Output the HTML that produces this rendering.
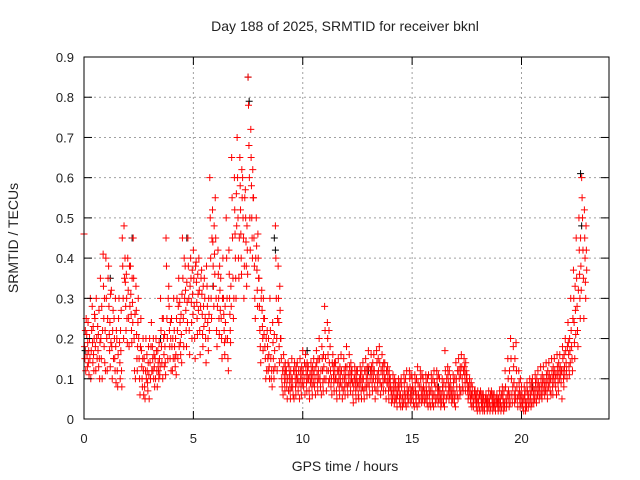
<!DOCTYPE html>
<html><head><meta charset="utf-8"><style>
body{margin:0;background:#fff}
svg{display:block;font-family:"Liberation Sans",sans-serif}
</style></head><body>
<svg id="chart" width="640" height="480">
<text x="345" y="31" text-anchor="middle" font-size="14" fill="#222">Day 188 of 2025, SRMTID for receiver bknl</text>
<text x="0" y="0" transform="translate(18,238) rotate(-90)" text-anchor="middle" font-size="14" fill="#222">SRMTID / TECUs</text>
<text x="345" y="471" text-anchor="middle" font-size="14" fill="#222">GPS time / hours</text>
<g id="grid"></g>
<g id="marks"></g>
<rect x="84" y="57" width="525" height="362" fill="none" stroke="#000"/>
<g id="ticks"></g>
</svg>
<script>
const xTicks=[0,5,10,15,20];
const yTicks=[0,0.1,0.2,0.3,0.4,0.5,0.6,0.7,0.8,0.9];
const yTickLabels=["0","0.1","0.2","0.3","0.4","0.5","0.6","0.7","0.8","0.9"];
const hours=[0,0.25,0.5,0.75,1,1.25,1.5,1.75,2,2.25,2.5,2.75,3,3.25,3.5,3.75,4,4.25,4.5,4.75,5,5.25,5.5,5.75,6,6.25,6.5,6.75,7,7.25,7.5,7.75,8,8.25,8.5,8.75,9,9.25,9.5,9.75,10,10.25,10.5,10.75,11,11.25,11.5,11.75,12,12.25,12.5,12.75,13,13.25,13.5,13.75,14,14.25,14.5,14.75,15,15.25,15.5,15.75,16,16.25,16.5,16.75,17,17.25,17.5,17.75,18,18.25,18.5,18.75,19,19.25,19.5,19.75,20,20.25,20.5,20.75,21,21.25,21.5,21.75,22,22.25,22.5,22.75];
const redVals=[
[.46,.18,.15,.22,.12,.25],[.2,.15,.3,.1,.17,.22],[.25,.18,.12,.3,.2,.15],[.35,.2,.15,.28,.1,.22],
[.4,.3,.2,.12,.25,.35],[.32,.18,.1,.22,.27,.15],[.2,.12,.08,.16,.25,.3],[.45,.38,.3,.2,.48,.35],
[.4,.32,.25,.18,.38,.28],[.45,.35,.2,.12,.26,.1],[.2,.15,.1,.06,.18,.25],[.15,.08,.05,.12,.2,.1],
[.2,.14,.1,.18,.24,.12],[.15,.1,.2,.17,.12,.08],[.3,.22,.18,.14,.25,.1],[.45,.38,.25,.2,.15,.3],
[.25,.18,.12,.2,.15,.3],[.3,.22,.15,.28,.35,.18],[.45,.35,.25,.18,.4,.3],[.45,.38,.3,.22,.16,.33],
[.42,.35,.28,.2,.15,.38],[.4,.32,.22,.16,.28,.35],[.35,.3,.25,.2,.14,.38],[.6,.5,.4,.3,.25,.45],
[.55,.45,.3,.22,.18,.28],[.35,.25,.2,.15,.3,.4],[.5,.4,.3,.2,.15,.12],[.65,.55,.45,.35,.25,.3],
[.7,.6,.5,.4,.35,.45],[.6,.5,.45,.3,.38,.55],[.85,.78,.68,.6,.5,.42],[.55,.45,.38,.3,.25,.4],
[.35,.28,.22,.18,.14,.3],[.25,.18,.15,.1,.2,.12],[.3,.22,.15,.1,.12,.08],[.48,.4,.3,.2,.12,.25],
[.2,.15,.1,.08,.12,.06],[.12,.08,.05,.1,.14,.07],[.15,.1,.08,.06,.12,.05],[.14,.1,.07,.12,.09,.05],
[.17,.12,.08,.1,.14,.06],[.13,.1,.07,.05,.11,.09],[.15,.12,.08,.1,.06,.13],[.2,.15,.1,.08,.12,.06],
[.28,.22,.15,.1,.07,.12],[.18,.12,.08,.1,.06,.14],[.14,.1,.07,.05,.12,.09],[.16,.12,.08,.05,.1,.07],
[.18,.13,.08,.06,.11,.09],[.12,.09,.06,.04,.08,.1],[.12,.09,.06,.05,.08,.1],[.14,.1,.07,.05,.12,.08],
[.17,.13,.08,.06,.1,.12],[.16,.12,.08,.05,.1,.07],[.18,.14,.09,.06,.12,.08],[.14,.1,.07,.05,.12,.09],
[.1,.08,.06,.04,.07,.05],[.09,.07,.05,.03,.06,.08],[.1,.08,.05,.03,.06,.04],[.12,.08,.06,.04,.07,.05],
[.1,.08,.06,.04,.07,.03],[.13,.09,.06,.04,.08,.05],[.1,.08,.06,.04,.07,.05],[.11,.08,.06,.04,.07,.03],
[.12,.09,.06,.04,.08,.05],[.1,.07,.05,.03,.06,.04],[.17,.12,.08,.05,.1,.06],[.1,.08,.06,.04,.07,.05],
[.14,.1,.08,.06,.12,.05],[.16,.13,.1,.08,.07,.12],[.11,.09,.07,.05,.08,.06],[.08,.06,.04,.03,.05,.07],
[.07,.05,.04,.03,.06,.02],[.06,.05,.03,.02,.04,.05],[.07,.05,.04,.02,.06,.03],[.06,.04,.03,.02,.05,.04],
[.07,.05,.04,.02,.06,.03],[.12,.08,.05,.03,.04,.06],[.2,.15,.1,.06,.04,.08],[.19,.12,.08,.05,.03,.06],
[.08,.06,.04,.03,.05,.02],[.09,.07,.05,.03,.06,.04],[.1,.08,.06,.04,.07,.05],[.12,.09,.07,.05,.08,.06],
[.13,.1,.08,.06,.09,.07],[.14,.11,.09,.07,.1,.06],[.15,.12,.1,.08,.11,.06],[.16,.13,.11,.09,.12,.05],
[.2,.17,.14,.12,.1,.18],[.3,.22,.18,.15,.12,.25],[.45,.35,.28,.22,.18,.32],[.6,.55,.5,.42,.35,.25]];
const redValsB=[
[.21,.16,.13,.19,.24,.14,.17,.11],[.28,.19,.14,.23,.16,.12,.2,.26],[.23,.17,.21,.13,.27,.15,.1,.19],[.41,.33,.25,.18,.3,.14,.22,.12],
[.38,.28,.21,.17,.24,.13,.31,.19],[.25,.2,.15,.12,.3,.18,.09,.22],[.19,.14,.1,.22,.17,.27,.12,.08],[.4,.34,.28,.22,.36,.3,.25,.19],
[.38,.31,.26,.22,.19,.35,.29,.24],[.33,.27,.21,.15,.12,.18,.24,.3],[.17,.13,.1,.08,.15,.2,.12,.06],[.16,.12,.09,.07,.14,.18,.11,.05],
[.18,.15,.12,.2,.1,.16,.13,.08],[.17,.14,.12,.1,.19,.15,.11,.13],[.25,.2,.16,.13,.21,.18,.14,.11],[.33,.28,.22,.18,.15,.24,.2,.12],
[.22,.18,.15,.13,.2,.16,.11,.25],[.29,.24,.19,.16,.26,.21,.14,.31],[.38,.32,.27,.22,.18,.34,.29,.24],[.4,.35,.29,.24,.2,.37,.31,.26],
[.39,.34,.29,.25,.21,.36,.31,.27],[.37,.31,.26,.21,.18,.33,.28,.23],[.33,.28,.24,.2,.17,.3,.26,.22],[.52,.44,.38,.33,.28,.48,.41,.36],
[.42,.36,.3,.25,.21,.38,.32,.27],[.3,.26,.22,.19,.16,.28,.24,.2],[.42,.36,.3,.26,.22,.19,.33,.28],[.6,.52,.46,.4,.35,.3,.56,.48],
[.65,.58,.52,.46,.4,.36,.62,.55],[.57,.5,.44,.38,.33,.48,.42,.36],[.72,.65,.58,.5,.45,.4,.62,.55],[.5,.43,.37,.32,.28,.46,.4,.35],
[.32,.27,.23,.2,.17,.3,.25,.21],[.22,.18,.15,.12,.2,.16,.13,.1],[.24,.19,.15,.12,.1,.21,.17,.13],[.38,.3,.24,.18,.14,.33,.27,.2],
[.16,.13,.11,.09,.07,.14,.12,.1],[.13,.11,.09,.07,.05,.12,.1,.08],[.14,.12,.1,.08,.06,.13,.11,.09],[.15,.12,.1,.08,.06,.13,.11,.09],
[.16,.13,.11,.09,.07,.14,.12,.1],[.14,.12,.1,.08,.06,.13,.11,.09],[.17,.14,.11,.09,.07,.15,.12,.1],[.18,.15,.12,.09,.07,.16,.13,.1],
[.24,.2,.16,.12,.09,.22,.14,.1],[.16,.13,.11,.09,.07,.14,.12,.1],[.15,.12,.1,.08,.06,.13,.11,.09],[.15,.12,.1,.08,.06,.13,.11,.09],
[.16,.13,.11,.09,.07,.14,.12,.1],[.13,.11,.09,.07,.05,.12,.1,.08],[.13,.11,.09,.07,.05,.12,.1,.08],[.15,.12,.1,.08,.06,.13,.11,.09],
[.16,.13,.11,.09,.07,.14,.12,.1],[.17,.14,.11,.09,.07,.15,.12,.1],[.16,.13,.11,.09,.07,.14,.12,.1],[.13,.11,.09,.07,.05,.12,.1,.08],
[.11,.09,.07,.06,.04,.1,.08,.05],[.1,.08,.07,.05,.04,.09,.06,.03],[.11,.09,.07,.05,.04,.1,.06,.03],[.12,.1,.08,.06,.04,.11,.07,.05],
[.11,.09,.07,.05,.04,.1,.06,.03],[.12,.1,.08,.06,.04,.11,.07,.05],[.11,.09,.07,.05,.04,.1,.06,.03],[.11,.09,.07,.05,.04,.1,.06,.03],
[.12,.1,.08,.06,.04,.11,.07,.05],[.1,.08,.07,.05,.04,.09,.06,.03],[.13,.11,.09,.07,.05,.12,.08,.06],[.11,.09,.07,.05,.04,.1,.06,.03],
[.15,.12,.1,.08,.06,.13,.11,.07],[.15,.13,.11,.09,.07,.14,.12,.1],[.1,.08,.07,.05,.04,.09,.06,.03],[.07,.06,.05,.04,.03,.06,.04,.02],
[.07,.06,.05,.04,.03,.06,.04,.02],[.06,.05,.04,.03,.02,.05,.04,.03],[.07,.06,.05,.04,.02,.06,.04,.03],[.06,.05,.04,.03,.02,.05,.04,.03],
[.08,.06,.05,.04,.02,.07,.04,.03],[.15,.1,.07,.05,.03,.12,.06,.04],[.18,.13,.09,.06,.04,.15,.07,.05],[.12,.09,.07,.05,.03,.1,.06,.04],
[.08,.06,.05,.04,.02,.07,.04,.03],[.1,.08,.06,.05,.03,.09,.07,.04],[.11,.09,.07,.05,.04,.1,.08,.06],[.13,.1,.08,.06,.05,.11,.09,.07],
[.14,.11,.09,.07,.05,.12,.1,.08],[.15,.12,.1,.08,.06,.13,.11,.09],[.16,.13,.11,.09,.07,.14,.12,.1],[.18,.15,.12,.1,.08,.16,.13,.11],
[.24,.19,.16,.13,.11,.2,.17,.14],[.37,.3,.24,.19,.15,.33,.27,.21],[.5,.42,.36,.3,.25,.45,.38,.32],[.52,.45,.4,.34,.3,.48,.42,.37]];
const blackHours=[0.05,1.2,2.2,3.5,4.7,5.9,7.5,7.55,8.7,8.75,10.2,13,16.2,20.5,22.7,22.75];
const blackVals=[.17,.35,.45,.2,.45,.33,.85,.79,.45,.42,.17,.12,.08,.08,.61,.48];

const X0=84,X1=609,Y0=419,Y1=57,XMAX=24,YMAX=0.9;
const xs=h=>X0+(X1-X0)*h/XMAX;
const ys=v=>Y0-(Y0-Y1)*v/YMAX;
const NS="http://www.w3.org/2000/svg";
function mk(tag,attrs,parent){const e=document.createElementNS(NS,tag);for(const k in attrs)e.setAttribute(k,attrs[k]);parent.appendChild(e);return e;}
const grid=document.getElementById('grid'),ticks=document.getElementById('ticks'),marks=document.getElementById('marks');
yTicks.forEach((t,i)=>{const y=ys(t);
 if(i>0&&i<yTicks.length-1){const g=mk('line',{x1:X0,x2:X1,y1:y,y2:y,stroke:'#a0a0a0','stroke-dasharray':'2,3'},grid);
 
 }
 mk('line',{x1:X0,x2:X0+8,y1:y,y2:y,stroke:'#000'},ticks);
 mk('line',{x1:X1,x2:X1-8,y1:y,y2:y,stroke:'#000'},ticks);
 const l=mk('text',{x:X0-10,y:y+5,'text-anchor':'end','font-size':13,fill:'#222'},ticks);l.textContent=yTickLabels[i];
 
 
});
xTicks.forEach(t=>{const x=xs(t);
 if(t>0){const g=mk('line',{x1:x,x2:x,y1:Y0,y2:Y1,stroke:'#a0a0a0','stroke-dasharray':'2,3'},grid);
 
 }
 mk('line',{x1:x,x2:x,y1:Y0,y2:Y0-8,stroke:'#000'},ticks);
 mk('line',{x1:x,x2:x,y1:Y1,y2:Y1+8,stroke:'#000'},ticks);
 const l=mk('text',{x:x,y:Y0+24,'text-anchor':'middle','font-size':13,fill:'#222'},ticks);l.textContent=String(t);
 
 
});
function plus(h,v,c){const x=xs(h),y=ys(v);
 const p=mk('path',{d:`M${x-3.5},${y}H${x+3.5}M${x},${y-3.5}V${y+3.5}`,stroke:c,'stroke-width':1,fill:'none'},marks);
 
 }
blackHours.forEach((h,i)=>plus(h,blackVals[i],'#000'));
hours.forEach((h,i)=>redVals[i].forEach((v,j)=>plus(h+j*0.02,v,'#ff0000')));
hours.forEach((h,i)=>redValsB[i].forEach((v,j)=>plus(h+0.125+j*0.015,v,'#ff0000')));
</script>
</body></html>
